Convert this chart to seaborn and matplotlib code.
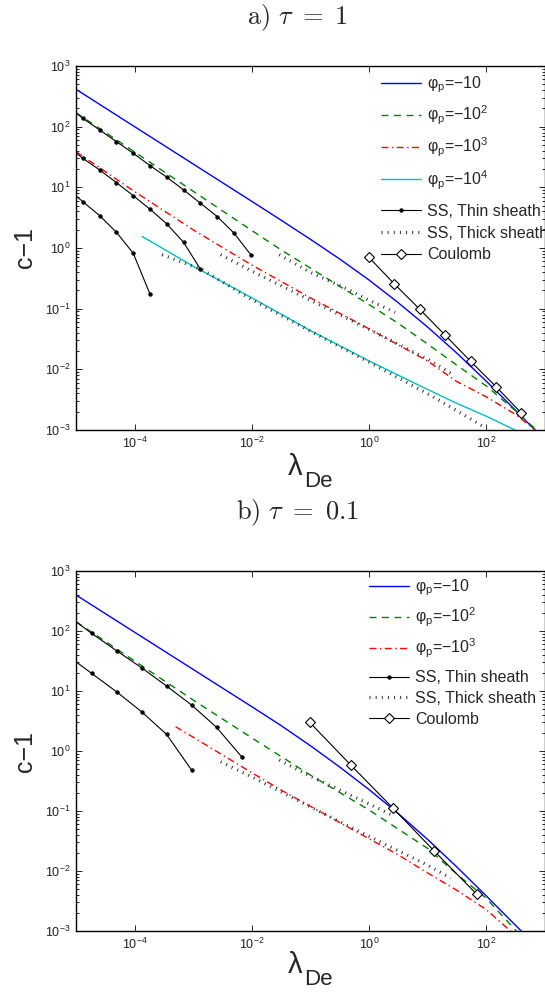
import numpy as np
import seaborn as sns
import matplotlib
matplotlib.use("Agg")
import matplotlib.pyplot as plt
from matplotlib.ticker import LogLocator, NullLocator, NullFormatter, FixedLocator

# ---------------- data (log10 of lambda_De, log10 of c-1) ----------------
# panel a) tau = 1
phi10_a_lx = [-5, -4, -3, -2, -1.5, -1, -0.5, 0, 0.5, 1, 1.5, 2, 2.5, 3]
phi10_a_ly = [2.616, 2.0, 1.385, 0.77, 0.46, 0.145, -0.18, -0.525, -0.90, -1.30, -1.73, -2.19, -2.67, -3.16]
phi100_a_lx = [-5, -4, -3, -2, -1.5, -1, 0, 0.5, 1, 1.5, 2, 2.5, 3]
phi100_a_ly = [2.23, 1.583, 0.936, 0.29, -0.03, -0.33, -0.93, -1.24, -1.58, -1.93, -2.27, -2.68, -3.12]
phi1000_a_lx = [-5, -4, -3, -2, -1, 0, 1, 1.5, 2, 2.5, 3]
phi1000_a_ly = [1.588, 0.93, 0.30, -0.28, -0.82, -1.33, -1.86, -2.20, -2.45, -2.74, -3.12]
phi1e4_a_lx = [-3.87, -3, -2, -1, 0, 1, 1.5, 2, 2.6]
phi1e4_a_ly = [0.19, -0.30, -0.82, -1.36, -1.86, -2.33, -2.56, -2.77, -3.05]

thin_a1_lx = [-5.171, -4.884, -4.597, -4.31, -4.023, -3.736, -3.449, -3.162, -2.875, -2.588, -2.301, -2.014]
thin_a1_ly = [2.36, 2.138, 1.946, 1.753, 1.562, 1.358, 1.167, 0.957, 0.738, 0.518, 0.244, -0.113]
thin_a2_lx = [-5.171, -4.884, -4.597, -4.31, -4.023, -3.736, -3.449, -3.162, -2.875]
thin_a2_ly = [1.70, 1.479, 1.287, 1.078, 0.863, 0.639, 0.397, 0.092, -0.349]
thin_a3_lx = [-5.171, -4.884, -4.597, -4.31, -4.023, -3.736]
thin_a3_ly = [1.0, 0.764, 0.534, 0.26, -0.086, -0.761]

thick_a1_lx = [-3.53, -2.84, -2, -1, 0, 1, 1.5, 2.0]
thick_a1_ly = [-0.11, -0.36, -0.85, -1.37, -1.88, -2.40, -2.68, -2.97]
thick_a2_lx = [-2.53, -2, -1, 0, 1, 1.46]
thick_a2_ly = [-0.11, -0.38, -0.86, -1.34, -1.83, -2.10]
thick_a3_lx = [-1.53, -1, -0.34, 0, 0.45]
thick_a3_ly = [-0.11, -0.40, -0.69, -0.86, -1.06]

coul_a_x = [1.0, 2.72, 7.39, 20.1, 54.6, 148.0, 403.0]
coul_a_y = [0.705, 0.256, 0.098, 0.0366, 0.0136, 0.0052, 0.0019]

# panel b) tau = 0.1
phi10_b_lx = [-5, -4, -3, -2, -1.5, -1, -0.5, 0, 0.5, 1, 1.5, 2, 2.5, 3]
phi10_b_ly = [2.60, 1.98, 1.36, 0.74, 0.425, 0.09, -0.265, -0.64, -1.04, -1.47, -1.93, -2.41, -2.90, -3.39]
phi100_b_lx = [-5, -4, -3, -2, -1.5, -1, 0, 1, 1.5, 2, 2.5, 3]
phi100_b_ly = [2.155, 1.50, 0.85, 0.22, -0.09, -0.40, -0.98, -1.62, -2.05, -2.45, -2.98, -3.5]
phi1000_b_lx = [-3.3, -3, -2, -1.5, -1, 0, 0.5, 1, 1.5, 2, 2.5]
phi1000_b_ly = [0.405, 0.23, -0.36, -0.65, -0.92, -1.46, -1.73, -2.03, -2.32, -2.64, -3.07]

thin_b1_lx = [-5.162, -4.735, -4.308, -3.881, -3.454, -3.027, -2.6, -2.173]
thin_b1_ly = [2.272, 1.962, 1.672, 1.388, 1.083, 0.767, 0.395, -0.095]
thin_b2_lx = [-5.162, -4.735, -4.308, -3.881, -3.454, -3.027]
thin_b2_ly = [1.605, 1.295, 0.988, 0.655, 0.278, -0.317]

thick_b1_lx = [-2.53, -2, -1, 0, 1, 1.4]
thick_b1_ly = [-0.18, -0.43, -0.93, -1.42, -1.90, -2.12]
thick_b2_lx = [-1.53, -1, 0, 0.42]
thick_b2_ly = [-0.15, -0.42, -0.88, -1.08]

coul_b_x = [0.098, 0.49, 2.6, 13.1, 69.0]
coul_b_y = [3.0, 0.585, 0.111, 0.0215, 0.00414]

labels_phi = ["φ$_\\mathregular{p}$=−10",
              "φ$_\\mathregular{p}$=−10$^\\mathregular{2}$",
              "φ$_\\mathregular{p}$=−10$^\\mathregular{3}$",
              "φ$_\\mathregular{p}$=−10$^\\mathregular{4}$"]
labels_ss = ["SS, Thin sheath", "SS, Thick sheath", "Coulomb"]
x_ticks = [1e-4, 1e-2, 1e0, 1e2]

# ---------------- style ----------------
sns.set_style("ticks")
plt.rcParams.update({
    "font.family": ["Liberation Sans", "DejaVu Sans"],
    "mathtext.fontset": "custom",
    "mathtext.rm": "Liberation Sans",
    "mathtext.it": "Liberation Sans",
    "mathtext.sf": "Liberation Sans",
    "mathtext.bf": "Liberation Sans:bold",
    "axes.unicode_minus": True,
})

C_BLUE = "#0000FF"
C_GREEN = "#008000"
C_RED = "#FF0000"
C_CYAN = "#00BFBF"

LW = 1.0
STY = {
    "phi10": dict(color=C_BLUE, lw=LW, linestyle="-"),
    "phi100": dict(color=C_GREEN, lw=LW, linestyle=(0, (5, 4))),
    "phi1000": dict(color=C_RED, lw=LW, linestyle=(0, (5, 2.5, 1, 2.5))),
    "phi1e4": dict(color=C_CYAN, lw=LW, linestyle="-"),
    "thin": dict(color="black", lw=0.8, linestyle="-", marker="o", markersize=2.6,
                 markerfacecolor="black", markeredgecolor="black", markeredgewidth=0.5),
    "thick": dict(color="#333333", lw=2.3, linestyle=(0, (0.32, 1.6)),
                  dash_capstyle="butt"),
    "coul": dict(color="black", lw=0.8, linestyle="-", marker="D", markersize=5.5,
                 markerfacecolor="white", markeredgecolor="black", markeredgewidth=0.8),
}


def p10(a):
    return np.power(10.0, np.asarray(a, dtype=float))


def draw(ax, x, y, key):
    sns.lineplot(x=np.asarray(x, float), y=np.asarray(y, float), ax=ax,
                 estimator=None, sort=False, legend=False, **STY[key])
    return ax.lines[-1]


fig = plt.figure(figsize=(5.45, 9.93), dpi=100)
L, R = 76 / 545, 544.5 / 545
ax_a = fig.add_axes([L, 1 - 430 / 993, R - L, (430 - 66) / 993])
ax_b = fig.add_axes([L, 1 - 931 / 993, R - L, (931 - 571) / 993])

# ---- panel a
h = {}
h["phi10"] = draw(ax_a, p10(phi10_a_lx), p10(phi10_a_ly), "phi10")
h["phi100"] = draw(ax_a, p10(phi100_a_lx), p10(phi100_a_ly), "phi100")
h["phi1000"] = draw(ax_a, p10(phi1000_a_lx), p10(phi1000_a_ly), "phi1000")
h["phi1e4"] = draw(ax_a, p10(phi1e4_a_lx), p10(phi1e4_a_ly), "phi1e4")
h["thin"] = draw(ax_a, p10(thin_a1_lx), p10(thin_a1_ly), "thin")
draw(ax_a, p10(thin_a2_lx), p10(thin_a2_ly), "thin")
draw(ax_a, p10(thin_a3_lx), p10(thin_a3_ly), "thin")
h["thick"] = draw(ax_a, p10(thick_a1_lx), p10(thick_a1_ly), "thick")
draw(ax_a, p10(thick_a2_lx), p10(thick_a2_ly), "thick")
draw(ax_a, p10(thick_a3_lx), p10(thick_a3_ly), "thick")
h["coul"] = draw(ax_a, coul_a_x, coul_a_y, "coul")

# ---- panel b
g = {}
g["phi10"] = draw(ax_b, p10(phi10_b_lx), p10(phi10_b_ly), "phi10")
g["phi100"] = draw(ax_b, p10(phi100_b_lx), p10(phi100_b_ly), "phi100")
g["phi1000"] = draw(ax_b, p10(phi1000_b_lx), p10(phi1000_b_ly), "phi1000")
g["thin"] = draw(ax_b, p10(thin_b1_lx), p10(thin_b1_ly), "thin")
draw(ax_b, p10(thin_b2_lx), p10(thin_b2_ly), "thin")
g["thick"] = draw(ax_b, p10(thick_b1_lx), p10(thick_b1_ly), "thick")
draw(ax_b, p10(thick_b2_lx), p10(thick_b2_ly), "thick")
g["coul"] = draw(ax_b, coul_b_x, coul_b_y, "coul")

# (axes, phi handles, phi labels, SS handles, legend x, y phi, y SS, spacing phi, spacing SS,
#  label baselines lambda / De in axes fraction)
legend_cfg = [
    (ax_a, [h["phi10"], h["phi100"], h["phi1000"], h["phi1e4"]], labels_phi,
     [h["thin"], h["thick"], h["coul"]], 0.652, 0.977, 0.621, 0.557, 0.42,
     -0.1236, -0.1566),
    (ax_b, [g["phi10"], g["phi100"], g["phi1000"]], labels_phi[:3],
     [g["thin"], g["thick"], g["coul"]], 0.626, 0.981, 0.724, 0.476, 0.35,
     -0.1160, -0.1490),
]

common_leg = dict(loc="upper left", frameon=False, fontsize=11.5, handlelength=2.5,
                  handletextpad=0.35, borderpad=0.0, borderaxespad=0.0)

for ax, hphi, lphi, hss, xa, y1, y2, sp1, sp2, yl, ys in legend_cfg:
    ax.set_xscale("log")
    ax.set_yscale("log")
    ax.set_xlim(1e-5, 1e3)
    ax.set_ylim(1e-3, 1e3)
    ax.xaxis.set_major_locator(FixedLocator(x_ticks))
    ax.xaxis.set_minor_locator(NullLocator())
    ax.yaxis.set_major_locator(LogLocator(base=10, numticks=20))
    ax.yaxis.set_minor_locator(LogLocator(base=10, subs=np.arange(2, 10), numticks=20))
    ax.yaxis.set_minor_formatter(NullFormatter())
    ax.tick_params(which="both", direction="in", top=True, right=True,
                   labelsize=9, width=0.6, colors="black", labelcolor="#222222")
    ax.tick_params(which="major", length=4, pad=4)
    ax.tick_params(which="minor", length=2)
    for s in ax.spines.values():
        s.set_linewidth(1.0)
        s.set_color("black")
    ax.set_xlabel("")
    # x label: lambda with a large, low "De" subscript (as in the original)
    ax.text(0.452, yl, "λ", transform=ax.transAxes, fontsize=21,
            ha="left", va="baseline")
    ax.text(0.4867, ys, "De", transform=ax.transAxes, fontsize=16,
            ha="left", va="baseline")
    ax.set_ylabel("c−1", fontsize=18)
    ax.yaxis.set_label_coords(-0.084, 0.5)
    leg1 = ax.legend(hphi, lphi, bbox_to_anchor=(xa, y1), labelspacing=sp1, **common_leg)
    ax.add_artist(leg1)
    ax.legend(hss, labels_ss, bbox_to_anchor=(xa, y2), labelspacing=sp2, **common_leg)

fig.text(298 / 545, 1 - 18 / 993, r"$\mathrm{a)}\ \tau\ =\ 1$", math_fontfamily="cm",
         fontsize=19, ha="center", va="center")
fig.text(298 / 545, 1 - 513 / 993, r"$\mathrm{b)}\ \tau\ =\ 0.1$", math_fontfamily="cm",
         fontsize=19, ha="center", va="center")

fig.savefig("out.png", dpi=100)
